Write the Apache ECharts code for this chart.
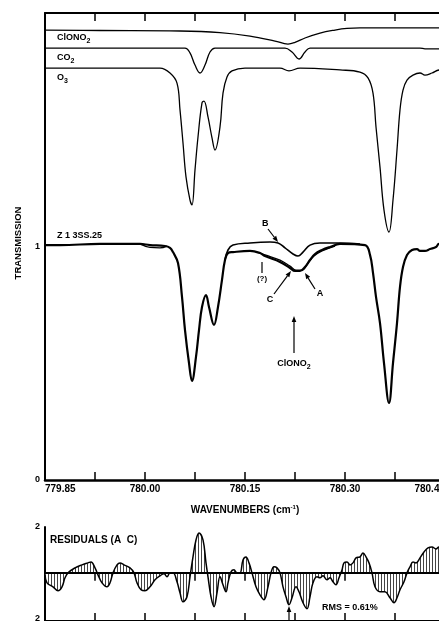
<!DOCTYPE html>
<html>
<head>
<meta charset="utf-8">
<script src="https://cdn.jsdelivr.net/npm/echarts@6/dist/echarts.min.js"></script>
<style>
  html, body { margin: 0; padding: 0; background: #fff; }
  #chart { width: 439px; height: 621px; }
</style>
</head>
<body>
<div id="chart"></div>
<script>
// ---- data (wavenumber cm-1, transmission) ----
// offset reference spectra at top
var clono2Wn = [779.850, 779.9325, 780.0525, 780.1125, 780.1575, 780.195, 780.2145, 780.225, 780.240, 780.2625, 780.285, 780.303, 780.3225, 780.48];
var clono2T  = [1.927, 1.925, 1.923, 1.916, 1.901, 1.880, 1.867, 1.874, 1.893, 1.914, 1.927, 1.934, 1.936, 1.936];

var co2Wn = [779.850, 780.060, 780.0675, 780.075, 780.0825, 780.090, 780.0975, 780.105, 780.210, 780.2205, 780.231, 780.240, 780.2475, 780.4125, 780.420, 780.48];
var co2T  = [1.850, 1.850, 1.829, 1.777, 1.743, 1.777, 1.833, 1.850, 1.850, 1.833, 1.803, 1.833, 1.850, 1.850, 1.846, 1.846];

var o3Wn = [779.850, 780.0225, 780.0375, 780.048, 780.0525, 780.057, 780.0615, 780.0675, 780.0705, 780.075, 780.0795, 780.0855, 780.0885,
            780.0945, 780.1005, 780.105, 780.1125, 780.117, 780.123, 780.1305, 780.150, 780.2025, 780.216, 780.2325, 780.2925, 780.3225,
            780.3345, 780.342, 780.3465, 780.3525, 780.3585, 780.366, 780.372, 780.378, 780.3825, 780.387, 780.393, 780.402, 780.4125,
            780.420, 780.4305, 780.441, 780.48];
var o3T  = [1.764, 1.764, 1.743, 1.700, 1.585, 1.443, 1.298, 1.199, 1.178, 1.328, 1.469, 1.615, 1.623,
            1.555, 1.465, 1.413, 1.512, 1.657, 1.726, 1.752, 1.764, 1.764, 1.752, 1.764, 1.756, 1.747,
            1.722, 1.657, 1.512, 1.340, 1.156, 1.062, 1.199, 1.413, 1.585, 1.670, 1.713, 1.734, 1.743,
            1.734, 1.743, 1.756, 1.760];

// measured spectrum Z 1 3SS.25 (A), and fits B, C
var specAWn = [779.850, 779.8725, 779.9325, 779.9925, 780.0075, 780.030, 780.0375, 780.042, 780.0495, 780.0555, 780.060, 780.066,
               780.0705, 780.0765, 780.081, 780.0855, 780.0915, 780.096, 780.1035, 780.1095, 780.1155, 780.120, 780.1245, 780.132,
               780.1575, 780.1725, 780.180, 780.2025, 780.2175, 780.225, 780.2325, 780.240, 780.2475, 780.255, 780.2655, 780.2775,
               780.2925, 780.330, 780.3375, 780.342, 780.3465, 780.3525, 780.3585, 780.366, 780.372, 780.378, 780.3825, 780.387,
               780.393, 780.4005, 780.408, 780.4125, 780.420, 780.4275, 780.4365, 780.441, 780.48];
var specAT  = [1.006, 1.006, 1.011, 1.011, 1.006, 1.002, 0.994, 0.976, 0.929, 0.784, 0.642, 0.501,
               0.424, 0.527, 0.642, 0.741, 0.792, 0.741, 0.664, 0.741, 0.857, 0.942, 0.972, 0.976,
               0.981, 0.972, 0.959, 0.934, 0.908, 0.895, 0.895, 0.912, 0.942, 0.968, 0.985, 0.998,
               1.011, 1.006, 0.964, 0.887, 0.784, 0.672, 0.501, 0.330, 0.501, 0.672, 0.827, 0.912,
               0.964, 0.985, 0.989, 0.981, 0.981, 0.989, 0.998, 1.011, 1.015];

var specBWn = [780.120, 780.1245, 780.132, 780.1575, 780.1875, 780.1995, 780.210, 780.222, 780.2295, 780.237, 780.2475, 780.2625, 780.2925, 780.3225];
var specBT  = [0.942, 0.985, 1.006, 1.015, 1.019, 1.015, 0.994, 0.968, 0.959, 0.976, 1.006, 1.015, 1.015, 1.011];

var specCWn = [779.9925, 780.0075, 780.0225, 780.033, 780.10, 780.1725, 780.180, 780.2025, 780.2175, 780.2265, 780.2355, 780.2445, 780.2535, 780.2655, 780.285];
var specCT  = [1.011, 0.996, 0.994, 1.002, null, 0.972, 0.964, 0.942, 0.916, 0.899, 0.899, 0.929, 0.959, 0.981, 1.002];

// residuals A - C (%)
var residWn = [779.850, 779.853, 779.862, 779.8695, 779.8755, 779.880, 779.8845, 779.895, 779.9055, 779.9145, 779.919, 779.925,
               779.9295, 779.9355, 779.943, 779.9475, 779.952, 779.958, 779.9625, 779.9685, 779.9775, 779.9835, 779.988, 779.994,
               780.000, 780.0075, 780.015, 780.0225, 780.0285, 780.033, 780.0375, 780.042, 780.048, 780.0525, 780.057, 780.063,
               780.0675, 780.072, 780.0765, 780.081, 780.087, 780.0915, 780.0945, 780.099, 780.1035, 780.108, 780.1125, 780.117,
               780.1215, 780.1245, 780.129, 780.1335, 780.138, 780.1425, 780.147, 780.1515, 780.156, 780.1605, 780.1665, 780.1725,
               780.1785, 780.1845, 780.189, 780.1935, 780.198, 780.2025, 780.207, 780.2115, 780.216, 780.2205, 780.2265, 780.231,
               780.237, 780.243, 780.2475, 780.252, 780.258, 780.2625, 780.267, 780.273, 780.2775, 780.282, 780.2865, 780.291,
               780.2955, 780.2985, 780.303, 780.3075, 780.312, 780.3165, 780.3225, 780.327, 780.3315, 780.336, 780.3405, 780.345,
               780.3525, 780.360, 780.3675, 780.3735, 780.378, 780.3825, 780.3885, 780.393, 780.3975, 780.402, 780.4065, 780.4125,
               780.4185, 780.4245, 780.4305, 780.4365, 780.441, 780.45];
var residV  = [-0.087, -0.435, -0.609, -0.783, -0.609, -0.217, 0, 0.217, 0.348, 0.435, 0.478, 0.217,
               -0.087, -0.435, -0.609, -0.435, 0, 0.348, 0.435, 0.348, 0.217, 0, -0.435, -0.739,
               -0.783, -0.609, -0.304, -0.130, -0.043, -0.174, 0, 0, -0.391, -0.870, -1.261, -1.043,
               -0.174, 0.696, 1.435, 1.739, 1.435, 0.435, -0.174, -1.043, -1.478, -0.870, -0.174, -0.522,
               -0.826, -0.435, 0.043, 0.130, 0, 0, 0.565, 0.696, 0.435, 0, -0.609, -0.957,
               -1.174, -0.609, 0, 0.261, 0.217, 0, -0.609, -1.043, -1.391, -1.087, -0.609, -0.826,
               -1.304, -1.565, -1.043, -0.435, -0.174, -0.217, -0.130, -0.304, -0.217, -0.391, -0.522, -0.217,
               0.130, 0.435, 0.478, 0.348, 0.435, 0.652, 0.696, 0.870, 0.696, 0.435, 0, -0.609,
               -0.826, -0.826, -1.087, -1.304, -1.087, -0.739, -0.391, 0, 0.261, 0.478, 0.435, 0.652,
               0.913, 1.087, 1.130, 1.043, 1.130, 1.10];

// axis ticks / labels
var xTicks  = [779.925, 780.00, 780.075, 780.15, 780.225, 780.30, 780.375, 780.45];
var xLabels = [779.85, 780.00, 780.15, 780.30, 780.45];
var yLabels = [0, 1];
var residLabels = [-2, 2];

function pairs(xs, ys) {
  return xs.map(function (x, i) { return [x, ys[i] === null ? '-' : ys[i]]; });
}

var FONT = '"Liberation Sans", Arial, sans-serif';

// vertical hatch for residual fill
var hatch = document.createElement('canvas');
hatch.width = 3; hatch.height = 4;
var hc = hatch.getContext('2d');
hc.fillStyle = '#ffffff'; hc.fillRect(0, 0, 3, 4);
hc.fillStyle = '#444444'; hc.fillRect(0, 0, 1, 4);

function arrow(x1, y1, x2, y2) {
  var a = Math.atan2(y2 - y1, x2 - x1), L = 6, W = 2.3;
  var bx = x2 - L * Math.cos(a), by = y2 - L * Math.sin(a);
  return [
    { type: 'line', z: 100, shape: { x1: x1, y1: y1, x2: bx, y2: by }, style: { stroke: '#000', lineWidth: 1.2 } },
    { type: 'polygon', z: 100, shape: { points: [[x2, y2], [bx - W * Math.sin(a), by + W * Math.cos(a)], [bx + W * Math.sin(a), by - W * Math.cos(a)]] }, style: { fill: '#000' } }
  ];
}

function label(text, x, y, opts) {
  opts = opts || {};
  return {
    type: 'text', z: 100, x: x, y: y, rotation: opts.rotation || 0,
    style: {
      text: text, fill: '#000', fontFamily: FONT, fontWeight: 'bold', fontSize: opts.size || 9,
      align: opts.align || 'left', verticalAlign: 'middle',
      rich: {
        b: { fontFamily: FONT, fontWeight: 'bold', fontSize: opts.size || 9 },
        s: { fontFamily: FONT, fontWeight: 'bold', fontSize: 7, padding: [7, 0, 0, 0] },
        u: { fontFamily: FONT, fontWeight: 'bold', fontSize: 6, padding: [0, 0, 6, 0] }
      }
    }
  };
}

var chart = echarts.init(document.getElementById('chart'), null, { renderer: 'canvas' });

var axisText = { color: '#000', fontFamily: FONT, fontWeight: 'bold', fontSize: 9 };

var graphics = [
  label('{b|ClONO}{s|2}', 57, 38),
  label('{b|CO}{s|2}', 57, 58),
  label('{b|O}{s|3}', 57, 78),
  label('Z 1 3SS.25', 57, 236),
  label('TRANSMISSION', 18, 243, { align: 'center', rotation: Math.PI / 2, size: 9.5 }),
  label('{b|WAVENUMBERS (cm}{u|-1}{b|)}', 245, 510, { align: 'center', size: 10 }),
  label('B', 262, 224),
  label('(?)', 262, 279, { align: 'center', size: 8 }),
  label('C', 270, 300, { align: 'center' }),
  label('A', 320, 294, { align: 'center' }),
  label('{b|ClONO}{s|2}', 294, 364, { align: 'center' }),
  label('RESIDUALS (A  C)', 50, 540, { size: 10 }),
  label('RMS = 0.61%', 322, 608),
  { type: 'line', z: 100, shape: { x1: 262, y1: 262, x2: 262, y2: 273 }, style: { stroke: '#000', lineWidth: 1.2 } }
].concat(
  arrow(268, 229, 278, 242),
  arrow(274, 294, 291, 271),
  arrow(315, 289, 305, 273),
  arrow(294, 353, 294, 316),
  arrow(289, 621, 289, 606)
);

var tickCommon = { show: true, inside: true, length: 8, customValues: xTicks, lineStyle: { color: '#000', width: 1.5 } };
var SMOOTH = 0.4;

var option = {
  backgroundColor: '#fff',
  animation: false,
  grid: [
    { left: 45, top: 13, width: 420, height: 467, outerBoundsMode: 'none' },
    { left: 45, top: 527, width: 420, height: 94, outerBoundsMode: 'none' }
  ],
  xAxis: [
    { type: 'value', gridIndex: 0, position: 'bottom', min: 779.85, max: 780.48,
      axisLine: { show: true, lineStyle: { color: '#000', width: 2.5 } },
      axisTick: tickCommon,
      axisLabel: Object.assign({ customValues: xLabels, margin: 4, alignMinLabel: 'left', alignMaxLabel: 'right',
        formatter: function (v) { return v.toFixed(2); } }, axisText, { fontSize: 10 }),
      splitLine: { show: false } },
    { type: 'value', gridIndex: 0, position: 'top', min: 779.85, max: 780.48,
      axisLine: { show: true, lineStyle: { color: '#000', width: 2 } },
      axisTick: tickCommon, axisLabel: { show: false }, splitLine: { show: false } },
    { type: 'value', gridIndex: 1, position: 'top', min: 779.85, max: 780.48,
      axisLine: { show: true, lineStyle: { color: '#000', width: 2 } },
      axisTick: tickCommon, axisLabel: { show: false }, splitLine: { show: false } },
    { type: 'value', gridIndex: 1, position: 'bottom', min: 779.85, max: 780.48,
      axisLine: { show: true, lineStyle: { color: '#000', width: 2 } },
      axisTick: tickCommon, axisLabel: { show: false }, splitLine: { show: false } }
  ],
  yAxis: [
    { type: 'value', gridIndex: 0, min: 0, max: 2,
      axisLine: { show: true, lineStyle: { color: '#000', width: 2 } },
      axisTick: { show: false },
      axisLabel: Object.assign({ customValues: yLabels, margin: 5 }, axisText),
      splitLine: { show: false } },
    { type: 'value', gridIndex: 1, min: -2.1, max: 2,
      axisLine: { show: true, lineStyle: { color: '#000', width: 2 } },
      axisTick: { show: false },
      axisLabel: Object.assign({ customValues: residLabels, margin: 5,
        formatter: function (v) { return String(Math.abs(v)); } }, axisText),
      splitLine: { show: false } }
  ],
  series: [
    { name: 'ClONO2', type: 'line', xAxisIndex: 0, yAxisIndex: 0, data: pairs(clono2Wn, clono2T),
      smooth: SMOOTH, showSymbol: false, lineStyle: { color: '#000', width: 1.3 } },
    { name: 'CO2', type: 'line', xAxisIndex: 0, yAxisIndex: 0, data: pairs(co2Wn, co2T),
      smooth: SMOOTH, showSymbol: false, lineStyle: { color: '#000', width: 1.3 } },
    { name: 'O3', type: 'line', xAxisIndex: 0, yAxisIndex: 0, data: pairs(o3Wn, o3T),
      smooth: SMOOTH, showSymbol: false, lineStyle: { color: '#000', width: 1.3 } },
    { name: 'A', type: 'line', xAxisIndex: 0, yAxisIndex: 0, data: pairs(specAWn, specAT),
      smooth: SMOOTH, showSymbol: false, lineStyle: { color: '#000', width: 2.2 } },
    { name: 'B', type: 'line', xAxisIndex: 0, yAxisIndex: 0, data: pairs(specBWn, specBT),
      smooth: SMOOTH, showSymbol: false, lineStyle: { color: '#000', width: 1.6 } },
    { name: 'C', type: 'line', xAxisIndex: 0, yAxisIndex: 0, data: pairs(specCWn, specCT),
      smooth: SMOOTH, showSymbol: false, connectNulls: false, lineStyle: { color: '#000', width: 1.3 } },
    { name: 'Residuals', type: 'line', xAxisIndex: 3, yAxisIndex: 1, data: pairs(residWn, residV),
      smooth: SMOOTH, showSymbol: false, lineStyle: { color: '#000', width: 1.5 },
      areaStyle: { color: { image: hatch, repeat: 'repeat' }, opacity: 1 },
      markLine: { silent: true, symbol: 'none', label: { show: false },
        lineStyle: { color: '#000', width: 2, type: 'solid' }, data: [{ yAxis: 0 }] } }
  ],
  graphic: graphics
};

chart.setOption(option);
</script>
</body>
</html>
